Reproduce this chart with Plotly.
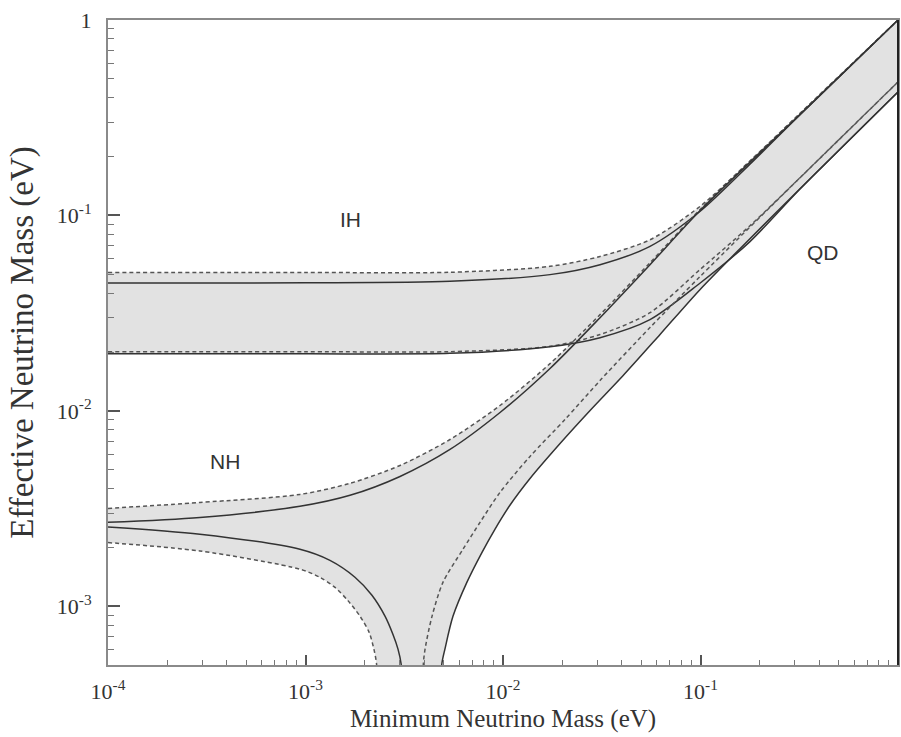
import math
import plotly.graph_objects as go

# ---------------- data ----------------
# Inverted hierarchy band
ih_x = [1e-4, 1e-3, 5.39e-3, 0.0173, 0.031, 0.0555, 0.0993, 0.178, 0.319, 1.0]
ih_up_dash_y = [0.0511, 0.0511, 0.0512, 0.0549, 0.0617, 0.0751, 0.1111, 0.19, 0.333, 1.0]
ih_up_sol_y = [0.0451, 0.0452, 0.0460, 0.0498, 0.0560, 0.0695, 0.1048, 0.183, 0.328, 1.0]
ih_lo_dash_y = [0.0201, 0.0201, 0.0201, 0.0214, 0.0246, 0.0318, 0.0528, 0.0886, 0.156, 0.482]
ih_lo_sol_y = [0.0196, 0.0196, 0.0197, 0.0213, 0.0237, 0.0293, 0.0450, 0.0735, 0.1365, 0.4285]

# Normal hierarchy band, upper edges
nh_up_x = [1e-4, 2.92e-4, 9.37e-4, 1.68e-3, 3.01e-3, 5.39e-3, 9.66e-3, 0.0173, 0.031, 0.0555, 0.0993, 0.319, 1.0]
nh_up_dash_y = [3.17e-3, 3.40e-3, 3.74e-3, 4.26e-3, 5.26e-3, 7.14e-3, 0.01066, 0.01746, 0.0311, 0.0573, 0.107, 0.331, 1.0]
nh_up_sol_y = [2.69e-3, 2.85e-3, 3.25e-3, 3.70e-3, 4.62e-3, 6.35e-3, 9.81e-3, 0.01648, 0.0300, 0.0560, 0.1057, 0.328, 1.0]

# Normal hierarchy, lower-left arcs
nh_lo_sol_x = [1e-4, 2.92e-4, 9.37e-4, 1.33e-3, 1.78e-3, 2.17e-3, 2.53e-3, 2.77e-3, 2.94e-3, 3.05e-3, 3.12e-3]
nh_lo_sol_y = [2.55e-3, 2.34e-3, 1.96e-3, 1.72e-3, 1.41e-3, 1.14e-3, 8.89e-4, 7.2e-4, 6.04e-4, 5.06e-4, 3.0e-4]
nh_lo_dash_x = [1e-4, 2.92e-4, 9.37e-4, 1.18e-3, 1.41e-3, 1.64e-3, 1.89e-3, 2.10e-3, 2.22e-3, 2.29e-3, 2.33e-3]
nh_lo_dash_y = [2.12e-3, 1.92e-3, 1.55e-3, 1.41e-3, 1.25e-3, 1.07e-3, 8.89e-4, 7.36e-4, 6.04e-4, 5.06e-4, 3.0e-4]

# Normal hierarchy, lower-right branches
nh_r_dash_x = [3.92e-3, 3.95e-3, 4.03e-3, 4.37e-3, 4.97e-3, 6.27e-3, 7.65e-3, 9.66e-3, 0.0137,
               0.0206, 0.0313, 0.0555, 0.0993, 0.319, 1.0]
nh_r_dash_y = [3.0e-4, 5.06e-4, 6.04e-4, 8.89e-4, 1.33e-3, 1.96e-3, 2.69e-3, 3.83e-3, 5.85e-3,
               9.04e-3, 0.01446, 0.0267, 0.0486, 0.156, 0.482]
nh_r_sol_x = [4.85e-3, 4.90e-3, 5.08e-3, 5.58e-3, 6.57e-3, 7.83e-3, 9.10e-3, 0.01084, 0.0137,
              0.01945, 0.0276, 0.0406, 0.0624, 0.0993, 0.164, 0.319, 1.0]
nh_r_sol_y = [3.0e-4, 5.06e-4, 6.04e-4, 8.89e-4, 1.33e-3, 1.89e-3, 2.48e-3, 3.29e-3, 4.51e-3,
              6.81e-3, 0.01005, 0.01517, 0.0246, 0.0417, 0.0700, 0.1369, 0.4285]

labels = ["IH", "NH", "QD"]
label_x = [1.68e-3, 3.9e-4, 0.417]
label_y = [0.095, 5.5e-3, 0.0645]

x_ticks = [1e-4, 1e-3, 1e-2, 1e-1, 1]
x_ticktext = ["10<sup>-4</sup>", "10<sup>-3</sup>", "10<sup>-2</sup>", "10<sup>-1</sup>", "1"]
y_ticks = [1e-3, 1e-2, 1e-1, 1]
y_ticktext = ["10<sup>-3</sup>", "10<sup>-2</sup>", "10<sup>-1</sup>", "1"]

# ---------------- figure ----------------
FILL = "#e2e2e2"
SOL = "#333333"
DASH = "#555555"
SPL = dict(shape="spline", smoothing=0.8)
SERIF = "Liberation Serif, Times New Roman, serif"

fig = go.Figure()


def closed_path(parts_x, parts_y):
    """Join curve pieces; each piece's end points are doubled so the spline keeps sharp corners."""
    px, py = [], []
    for xs, ys in zip(parts_x, parts_y):
        px += [xs[0]] + list(xs) + [xs[-1]]
        py += [ys[0]] + list(ys) + [ys[-1]]
    return px, py


ih_px, ih_py = closed_path([ih_x, ih_x[::-1]], [ih_up_dash_y, ih_lo_sol_y[::-1]])
fig.add_trace(go.Scatter(
    x=ih_px, y=ih_py, fill="toself", fillcolor=FILL, mode="lines",
    line=dict(width=0, **SPL), hoverinfo="skip", showlegend=False))

nh_px, nh_py = closed_path([nh_up_x, nh_r_sol_x[::-1], nh_lo_dash_x[::-1]],
                           [nh_up_dash_y, nh_r_sol_y[::-1], nh_lo_dash_y[::-1]])
fig.add_trace(go.Scatter(
    x=nh_px, y=nh_py, fill="toself", fillcolor=FILL, mode="lines",
    line=dict(width=0, **SPL), hoverinfo="skip", showlegend=False))


def add_line(x, y, dashed):
    fig.add_trace(go.Scatter(
        x=x, y=y, mode="lines", showlegend=False, hoverinfo="skip",
        line=dict(color=DASH if dashed else SOL, width=1.5,
                  dash="4px,3px" if dashed else "solid", **SPL)))


add_line(ih_x, ih_up_dash_y, True)
add_line(ih_x, ih_up_sol_y, False)
add_line(ih_x, ih_lo_dash_y, True)
add_line(ih_x, ih_lo_sol_y, False)
add_line(nh_up_x, nh_up_dash_y, True)
add_line(nh_up_x, nh_up_sol_y, False)
add_line(nh_lo_sol_x, nh_lo_sol_y, False)
add_line(nh_lo_dash_x, nh_lo_dash_y, True)
add_line(nh_r_dash_x, nh_r_dash_y, True)
add_line(nh_r_sol_x, nh_r_sol_y, False)

for t, lx, ly in zip(labels, label_x, label_y):
    fig.add_annotation(x=math.log10(lx), y=math.log10(ly), text=t, showarrow=False,
                       font=dict(family="Liberation Sans, Arial, sans-serif", size=21, color="#333333"))

minor_vals = [k * 10 ** e for e in range(-4, 0) for k in range(2, 10)]

tick_font = dict(family=SERIF, size=22, color="#333333")

fig.update_xaxes(
    type="log", range=[-4, 0], tickmode="array", tickvals=x_ticks, ticktext=x_ticktext,
    ticks="inside", ticklen=10, tickwidth=1.5, tickcolor="#555",
    minor=dict(tickmode="array", tickvals=minor_vals, ticks="inside", ticklen=5,
               tickwidth=1.2, tickcolor="#777", showgrid=False),
    showgrid=False, zeroline=False, showline=True, linecolor="#8a8a8a", linewidth=2, mirror=True,
    tickfont=tick_font, automargin=False, ticklabelstandoff=6,
    title=dict(text="Minimum Neutrino Mass (eV)",
               font=dict(family=SERIF, size=25, color="#333333"), standoff=6))
fig.update_yaxes(
    type="log", range=[-3.3, 0], tickmode="array", tickvals=y_ticks, ticktext=y_ticktext,
    ticks="inside", ticklen=12, tickwidth=1.5, tickcolor="#555",
    minor=dict(tickmode="array", tickvals=minor_vals, ticks="inside", ticklen=6,
               tickwidth=1.2, tickcolor="#777", showgrid=False),
    showgrid=False, zeroline=False, showline=True, linecolor="#8a8a8a", linewidth=2, mirror=True,
    tickfont=tick_font, automargin=False, ticklabelstandoff=10,
    title=dict(text="Effective Neutrino Mass (eV)",
               font=dict(family=SERIF, size=33, color="#333333"), standoff=13))

# dark right frame edge
fig.add_shape(type="line", xref="paper", yref="paper", x0=1, x1=1, y0=0, y1=1,
              line=dict(color="#222222", width=2))

fig.update_layout(
    width=901, height=737,
    margin=dict(l=108, r=3, t=20, b=72),
    plot_bgcolor="white", paper_bgcolor="white",
)

fig.write_html("out.html", config={"displayModeBar": False},
               post_script="document.body.style.margin='0';document.body.style.overflow='hidden';")
